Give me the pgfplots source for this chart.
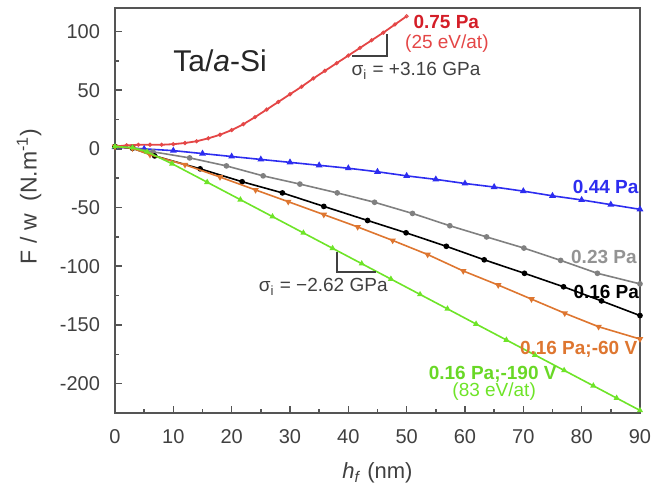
\documentclass[border=0pt]{standalone}
\usepackage{pgfplots}
\pgfplotsset{compat=1.18}
\usepackage{fontspec}
\setmainfont{Liberation Sans}
\definecolor{cred}{RGB}{228,70,70}
\definecolor{cdred}{RGB}{212,30,40}
\definecolor{cblue}{RGB}{45,45,240}
\definecolor{cgray}{RGB}{128,128,128}
\definecolor{corange}{RGB}{222,118,48}
\definecolor{cgreen}{RGB}{110,228,40}
\definecolor{ctext}{RGB}{64,64,64}
\definecolor{caxis}{RGB}{85,85,85}
\begin{document}
\begin{tikzpicture}
\begin{axis}[
  scale only axis, width=262.5pt, height=202.5pt,
  xmin=0, xmax=90, ymin=-225, ymax=120,
  xtick={0,10,...,90}, ytick={-200,-150,...,100},
  minor x tick num=1, minor y tick num=1,
  tick align=inside, tick pos=left,
  major tick length=3.5pt, minor tick length=2pt,
  axis line style={caxis, line width=1pt},
  every tick/.style={caxis, line width=0.8pt},
  tick label style={font=\fontsize{10}{12}\selectfont, text=ctext},
  /pgf/number format/assume math mode=true,
  yticklabel style={xshift=-4pt},
  xticklabel style={yshift=-4.5pt},
  every axis x label/.style={at={(axis description cs:0.5,0)}, anchor=center, yshift=-30pt, font=\fontsize{11}{13}\selectfont, text=ctext},
  every axis y label/.style={at={(axis description cs:0,0.535)}, anchor=center, xshift=-43pt, rotate=90, font=\fontsize{11.5}{13}\selectfont, text=ctext},
  xlabel={\textit{h}\textsubscript{\textit{f}} (nm)},
  ylabel={F / w \ (N.m\textsuperscript{-1})},
  clip mode=individual,
]
% 0.75 Pa
\addplot[cred, line width=0.9pt, mark=o, mark size=0.8pt, mark options={line width=0.5pt}] coordinates {
(0,2) (2,3) (4,3.5) (6,3.5) (8,3.5) (10,4) (12,5) (14,6.5) (16,9) (18,12) (20,16) (22,21) (24,27) (26,33.5) (28,40) (30,46.5) (32,53) (34,60) (36,66.5) (38,73) (40,79.5) (42,86) (44,92.5) (46,99) (48,106) (50,113)};
% 0.44 Pa
\addplot[cblue, line width=0.8pt, mark=triangle*, mark size=1.2pt] coordinates {
(0,1.5) (5,0) (10,-1.5) (15,-4) (20,-6.5) (25,-9) (30,-11.5) (35,-14) (40,-16.5) (45,-19.5) (50,-23) (55,-26) (60,-29.5) (65,-32.5) (70,-36) (75,-40) (80,-43.5) (85,-47.5) (90,-51.5)};
% 0.23 Pa
\addplot[cgray, line width=0.8pt, mark=*, mark size=1pt] coordinates {
(0,2) (3,1) (6.5,-2.5) (12.8,-7.7) (19.1,-14.5) (25.4,-23) (31.7,-30) (38.1,-37.5) (44.5,-45.5) (51,-55) (57.4,-65.5) (63.7,-75) (70.1,-84.5) (76.4,-95) (82.7,-106) (90,-115)};
% 0.16 Pa
\addplot[black, line width=0.8pt, mark=*, mark size=1pt] coordinates {
(0,2) (3,0.5) (6.8,-6) (14.6,-17) (21.8,-28) (28.7,-37.5) (35.8,-49) (43.3,-61) (49.9,-71.5) (56.8,-83) (63.3,-94.5) (70.2,-106) (76.9,-117.5) (83.4,-129.5) (90,-142)};
% 0.16 Pa; -60 V
\addplot[corange, line width=0.8pt, mark=triangle*, mark size=1.1pt, mark options={rotate=180}] coordinates {
(0,2) (3,0.5) (6,-5) (12,-13.5) (18,-24) (24.1,-35) (29.7,-45) (35.8,-56) (41.6,-66.5) (47.6,-78) (53.6,-90) (59.7,-104) (65.7,-116) (71.4,-128) (77.1,-140) (82.9,-151.5) (90,-162)};
% 0.16 Pa; -190 V
\addplot[cgreen, line width=0.8pt, mark=triangle*, mark size=1pt] coordinates {
(0,2) (3,1) (5.5,-2.5) (9.8,-12.7) (15.8,-28.4) (21.5,-43.3) (27,-57.7) (32.3,-71.6) (37.3,-84.7) (42.3,-97.8) (47.3,-110.9) (52.3,-124) (57,-136.3) (61.9,-149.2) (67.1,-162.8) (72,-175.6) (77,-188.7) (82,-201.8) (86,-212.3) (90,-222.8)};

\node[font=\fontsize{15}{18}\selectfont, text=black!85] at (axis cs:18,75) {Ta/\textit{a}-Si};
\draw[ctext, line width=1pt] (axis cs:40.7,79.3) -- (axis cs:46.7,79.3) -- (axis cs:46.7,98);
\node[font=\fontsize{9.5}{11}\selectfont, text=ctext] at (axis cs:51.6,66.5) {σ\textsubscript{i} = +3.16 GPa};
\node[font=\fontsize{9.5}{11}\selectfont\bfseries, text=cdred] at (axis cs:56.8,108.2) {0.75 Pa};
\node[font=\fontsize{9.5}{11}\selectfont, text=cred] at (axis cs:56.9,89.5) {(25 eV/at)};
\draw[ctext, line width=1pt] (axis cs:38.1,-87.8) -- (axis cs:38.1,-104.8) -- (axis cs:44.8,-104.8);
\node[font=\fontsize{9.5}{11}\selectfont, text=ctext] at (axis cs:35.7,-117.6) {σ\textsubscript{i} = −2.62 GPa};
\node[font=\fontsize{9.5}{11}\selectfont\bfseries, text=cblue, anchor=east, inner sep=0pt] at (axis cs:89.8,-32.8) {0.44 Pa};
\node[font=\fontsize{9.5}{11}\selectfont\bfseries, text=cgray!85, anchor=east, inner sep=0pt] at (axis cs:89.5,-92) {0.23 Pa};
\node[font=\fontsize{9.5}{11}\selectfont\bfseries, text=black, anchor=east, inner sep=0pt] at (axis cs:89.9,-121.9) {0.16 Pa};
\node[font=\fontsize{9.5}{11}\selectfont\bfseries, text=corange, anchor=east, inner sep=0pt] at (axis cs:89.6,-170.5) {0.16 Pa;-60 V};
\node[font=\fontsize{9.5}{11}\selectfont\bfseries, text=cgreen!95!black] at (axis cs:64.75,-191.8) {0.16 Pa;-190 V};
\node[font=\fontsize{9.5}{11}\selectfont, text=cgreen] at (axis cs:65,-207.1) {(83 eV/at)};
\end{axis}
\pgfresetboundingbox
\path (current axis.south west) ++(-57.5pt,-37.5pt) rectangle ++(327pt,244pt);
\end{tikzpicture}
\end{document}
